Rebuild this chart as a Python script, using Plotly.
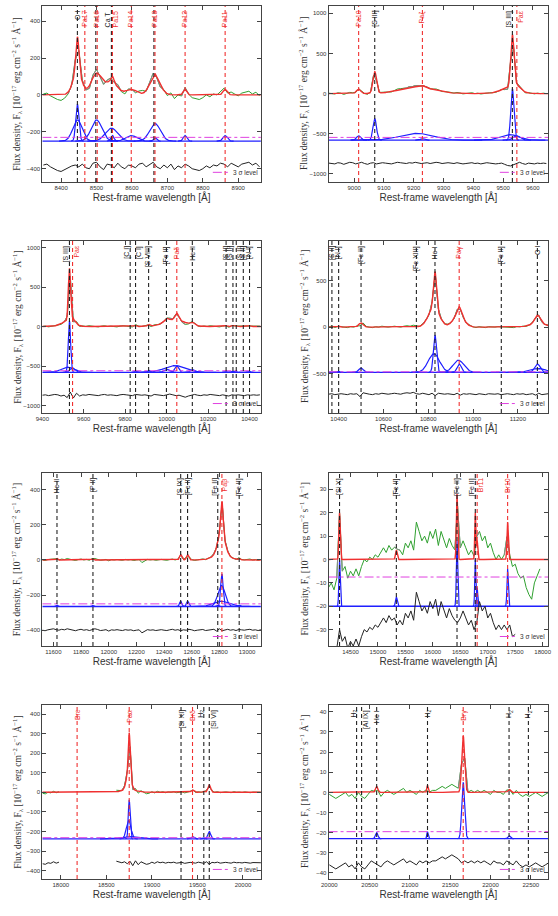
import numpy as np
import plotly.graph_objects as go

# ======================= data =======================
# ---- Panel 1 (8350-8960 A)
p1_xrange = [8347, 8964]
p1_yrange = [-472, 482]
p1_dtick = [100, 200]
p1_line_wl = [8446, 8467, 8498, 8502, 8542, 8545, 8598, 8662, 8665, 8750, 8863]
p1_line_lab = ["O I", "Pa17", "", "Pa16", "Ca T", "Pa15", "Pa14", "", "Pa13", "Pa12", "Pa11"]
p1_line_red = [0, 1, 0, 1, 0, 1, 1, 0, 1, 1, 1]
p1_comp_c = [8446, 8446, 8500, 8542, 8545, 8598, 8665, 8665, 8750, 8863]
p1_comp_a = [200, 115, 115, 70, 30, 30, 95, 18, 30, 30]
p1_comp_s = [4.5, 13, 15, 17, 4, 15, 15, 4, 5, 6]
p1_blue_off, p1_sig3, p1_res_off = -250, -230, -385
p1_res_start, p1_res_step = 8350, 10
p1_res = [5, 10, -5, -15, -25, -30, -20, -10, 0, 5,
          -5, 10, -10, -15, 15, 20, -5, -20, 10, 5,
          -10, 15, -5, -15, 5, 0, -10, 10, 15, -5,
          10, 20, -5, -15, 5, -10, 10, -20, 0, -10,
          10, 0, -15, -20, -25, -15, 0, -10, 5, 0,
          15, 10, -5, 15, 5, -5, 10, 15, 20, 5, 15, -5]

# ---- Panel 2 (8915-9650 A)
p2_xrange = [8914, 9651]
p2_yrange = [-1100, 1090]
p2_dtick = [100, 500]
p2_line_wl = [9015, 9069, 9229, 9531, 9546]
p2_line_lab = ["Pa10", "[S III]", "Paζ", "[S III]", "Paε"]
p2_line_red = [1, 0, 1, 0, 1]
p2_comp_c = [9015, 9069, 9210, 9229, 9531, 9522, 9546]
p2_comp_a = [55, 270, 85, 20, 640, 70, 55]
p2_comp_s = [7, 6, 55, 6, 5.5, 30, 12]
p2_blue_off, p2_sig3, p2_res_off = -580, -545, -870
p2_res_start, p2_res_step = 8915, 10
p2_res = [5, 0, -5, 10, 5, -10, 0, 15, 10, -5,
          5, 15, 0, -10, 5, 10, -5, 0, 10, 5,
          0, -5, 5, 15, 10, 5, 0, 10, 5, 15,
          10, 0, 5, 10, 0, 5, 15, 10, 0, 5,
          10, 5, 0, 10, 5, -5, 0, 5, 10, 0,
          5, -5, 0, 10, 5, 0, -5, 0, 5, -10,
          -25, -30, -15, 5, 15, 0, -10, 5, 0, -5,
          5, 0, 5, 0]

# ---- Panel 3 (9400-10455 A)
p3_xrange = [9400, 10455]
p3_yrange = [-1095, 1083]
p3_dtick = [200, 500]
p3_line_wl = [9531, 9546, 9824, 9850, 9913, 9999, 10049, 10124, 10287, 10320, 10336, 10370, 10400]
p3_line_lab = ["[S III]", "Paε", "[C I]", "[C I]", "[S VIII]", "[Fe II]", "Paδ", "He II",
               "[S II]", "[S II]", "[S II]", "[S II]", "[N I]"]
p3_line_red = [0, 1, 0, 0, 0, 0, 1, 0, 0, 0, 0, 0, 0]
p3_comp_c = [9531, 9522, 9546, 9850, 9913, 9999, 10049, 10040, 10124, 10287, 10320, 10336, 10370, 10400]
p3_comp_a = [650, 65, 55, 15, 25, 40, 85, 85, 35, 12, 15, 10, 8, 12]
p3_comp_s = [5.5, 30, 12, 5, 6, 12, 9, 50, 10, 5, 5, 5, 5, 5]
p3_blue_off, p3_sig3, p3_res_off = -580, -560, -870
p3_res_start, p3_res_step = 9400, 15
p3_res = [0, 5, -5, 0, 10, 5, -10, 0, -30, 40,
          -35, 25, -10, 5, 0, 10, 5, 0, -5, 5,
          10, 0, 5, 0, -5, 5, 10, 5, 0, -5,
          10, 5, 0, 5, -5, -10, 10, 5, 0, -5,
          5, 15, 5, -5, 0, -15, -25, -10, 5, 10,
          0, -5, 5, 0, 10, 5, 0, -5, 5, 0,
          -10, 5, 0, 5, 0, -5, 5, 0, 5, 0, 5]

# ---- Panel 4 (10355-11335 A)
p4_xrange = [10355, 11335]
p4_yrange = [-922, 925]
p4_dtick = [200, 500]
p4_line_wl = [10370, 10400, 10500, 10747, 10830, 10938, 11126, 11287]
p4_line_lab = ["[S II]", "[N I]", "[Fe II]", "[Fe XIII]", "He I", "Paγ", "[Fe II]", "O I"]
p4_line_red = [0, 0, 0, 0, 0, 1, 0, 0]
p4_comp_c = [10370, 10400, 10500, 10747, 10830, 10825, 10938, 10935, 11126, 11287, 11290]
p4_comp_a = [8, 10, 45, 8, 400, 200, 90, 130, 8, 90, 40]
p4_comp_s = [5, 5, 10, 6, 7, 25, 9, 24, 6, 12, 35]
p4_blue_off, p4_sig3, p4_res_off = -485, -480, -720
p4_res_start, p4_res_step = 10355, 14
p4_res = [0, 5, -5, 0, 5, 0, -5, 5, 0, 5,
          -25, 15, 5, 0, -5, 5, 0, 10, 5, 0,
          5, 10, 5, 0, 10, 15, 10, 20, 5, 0,
          10, 5, -5, 10, -15, 10, 5, 0, 5, 0,
          -5, 10, -10, 5, 0, 5, 0, -5, 5, 0,
          -5, 5, 0, 0, 5, -5, 0, 5, 0, -5,
          5, 0, 5, -5, 0, 5, -10, 10, -5, 0, 5]

# ---- Panel 5 (11520-13100 A)
p5_xrange = [11520, 13100]
p5_yrange = [-490, 495]
p5_dtick = [200, 200]
p5_line_wl = [11626, 11886, 12520, 12570, 12788, 12818, 12943]
p5_line_lab = ["He II", "[P II]", "[S IX]", "[Fe II]", "[Fe II]", "Paβ", "[Fe II]"]
p5_line_red = [0, 0, 0, 0, 0, 1, 0]
p5_comp_c = [11626, 11886, 12520, 12570, 12788, 12818, 12815, 12812, 12943]
p5_comp_a = [8, 6, 30, 30, 8, 185, 120, 30, 8]
p5_comp_s = [5, 5, 8, 8, 6, 9, 26, 55, 6]
p5_blue_off, p5_sig3, p5_res_off = -265, -250, -400
p5_res_start, p5_res_step = 11520, 20
p5_res = [0, -3, 2, 5, 8, 3, 0, 5, 2, 8,
          4, 0, -3, 2, 5, 0, 3, -2, 5, 8,
          4, -2, 0, 3, -5, 2, 0, 3, 0, -2,
          3, 0, 2, -3, 0, 2, -15, -5, 3, 0,
          2, -2, 0, 3, 0, -2, 2, 5, 0, 3,
          -3, 2, 0, 5, 2, -3, 0, 2, 4, -2,
          0, 3, 5, -5, 8, -3, 2, 5, 0, 3,
          -2, 4, 2, 0, 3, 5, 0, 2, -2, 3]

# ---- Panel 6 (14100-18100 A)
p6_xrange = [14100, 18100]
p6_yrange = [-37, 37]
p6_dtick = [500, 10]
p6_line_wl = [14300, 15335, 16440, 16773, 16807, 17362]
p6_line_lab = ["[Si X]", "[Fe II]", "[Fe II]", "[Fe II]", "Br11", "Br10"]
p6_line_red = [0, 0, 0, 0, 1, 1]
p6_comp_c = [14300, 15335, 16440, 16773, 16807, 17362]
p6_comp_a = [20, 4, 28, 20, 8, 16]
p6_comp_s = [12, 15, 12, 10, 10, 12]
p6_blue_off, p6_sig3, p6_res_off = -20, -7.5, -30
p6_res_start, p6_res_step, p6_res_end = 14100, 50, 17500
p6_res = [-12, -10, -13, -8, 0, -5, -3, -8, -5, -7,
          -4, -7, -3, 0, -1, 1, 0, 2, 1, 3,
          5, 3, 6, 4, 5, 2, 4, 2, 7, 5,
          8, 4, 16, 12, 8, 10, 7, 12, 9, 13,
          6, 12, 8, 5, 9, 6, 4, 3, 5, 8,
          5, 2, 4, 0, 3, 12, 8, 10, 5, 7,
          3, 0, 2, 0, 2, 0, 2, -3, -2, -6,
          -8, -7, -12, -15, -17, -10, -7, -4]

# ---- Panel 7 (17800-20200 A)
p7_xrange = [17797, 20197]
p7_yrange = [-443, 446]
p7_dtick = [500, 100]
p7_line_wl = [18179, 18751, 19320, 19446, 19570, 19630]
p7_line_lab = ["Brε", "Paα", "[Si XI]", "Brδ", "H<sub>2</sub>", "[Si VI]"]
p7_line_red = [1, 1, 0, 1, 0, 0]
p7_comp_c = [18751, 18745, 18750, 19446, 19570, 19630]
p7_comp_a = [200, 95, 12, 12, 6, 38]
p7_comp_s = [10, 25, 80, 15, 10, 15]
p7_blue_off, p7_sig3, p7_res_off = -238, -232, -360
p7_res_start, p7_res_step = 17800, 30
p7_res = [-5, -8, 0, -3, 5, -2, 3,
          None, None, None, None, None, None, None, None, None, None,
          None, None, None, None, None, None, None, None, None, None,
          8, 5, 0, 5, -5, 8, -15, 10, -10, 5,
          0, -8, -5, 3, -3, 5, 0, 3, -2, 2,
          0, 3, -2, 0, 2, -3, 0, 2, 0, -2,
          3, 0, -3, 5, -8, 2, 0, 3, -2, 0,
          2, 0, -2, 3, 0, 1, -1, 2, 0, -2,
          1, 0, 2, 0]

# ---- Panel 8 (20000-22715 A)
p8_xrange = [19990, 22715]
p8_yrange = [-43, 43.4]
p8_dtick = [500, 10]
p8_line_wl = [20338, 20400, 20587, 21218, 21661, 22230, 22470]
p8_line_lab = ["H<sub>2</sub>", "[Al IX]", "He I", "H<sub>2</sub>", "Brγ", "H<sub>2</sub>", "H<sub>2</sub>"]
p8_line_red = [0, 0, 0, 0, 1, 0, 0]
p8_comp_c = [20587, 21218, 21661, 22230]
p8_comp_a = [3, 3.5, 28, 1.5]
p8_comp_s = [15, 8, 18, 15]
p8_blue_off, p8_sig3, p8_res_off = -23, -19.5, -35
p8_res_start, p8_res_step = 20000, 40
p8_res = [-1, -2, -3, -2, -1, 0, -2, -1, -3, 0,
          -2, -3, -1, 1, 0, -1, -2, 0, 1, 0,
          -1, 0, 1, 2, 0, 1, 0, -1, 1, 0,
          1, 0, 1, 1, 2, 3, 2, 3, 4, 3,
          2, 0, 1, 0, 1, 0, 1, 0, 1, 0,
          -1, 1, 0, 0, -1, 1, 0, -1, 1, -1,
          -2, -1, -2, -1, 0, -1, -2, -1, 0]

# ======================= assembly =======================
def P(k, res_end=None):
    g = globals()
    d = {n: g[f"p{k}_{n}"] for n in ["xrange", "yrange", "dtick", "line_wl", "line_lab", "line_red",
                                     "comp_c", "comp_a", "comp_s", "blue_off", "sig3", "res_off",
                                     "res_start", "res_step", "res"]}
    d["res_end"] = res_end
    return d

panels = [P(1), P(2), P(3), P(4), P(5), P(6, p6_res_end), P(7), P(8)]

W, H = 558, 916
col_px = [(35, 258), (327, 551)]
row_px = [(6, 182), (241, 413), (473, 646), (705, 879)]

RED = "#f03030"
BLUE = "#1f1fff"
GREEN = "#2fa02f"
GRAY = "#8a8a8a"
BLACK = "#222222"
MAG = "#e040e0"
AXC = "#444444"
SANS = "Liberation Sans"
TICKF = dict(family=SANS, size=6, color="#333333")


def model(x, p):
    y = np.zeros_like(x, dtype=float)
    for c, a, s in zip(p["comp_c"], p["comp_a"], p["comp_s"]):
        y += a * np.exp(-0.5 * ((x - c) / s) ** 2)
    return y


fig = go.Figure()
shapes, annots = [], []
layout = dict(width=W, height=H, margin=dict(l=0, r=0, t=0, b=0),
              paper_bgcolor="white", plot_bgcolor="white", showlegend=False)

for i, p in enumerate(panels):
    k = i + 1
    ax = "" if k == 1 else str(k)
    xa, ya = "x" + ax, "y" + ax
    col, row = i % 2, i // 2
    x0p, x1p = col_px[col]
    t, b = row_px[row]
    xdom = [x0p / W, x1p / W]
    ydom = [1 - b / H, 1 - t / H]
    xr, yr = p["xrange"], p["yrange"]

    common = dict(ticks="inside", ticklen=4, tickwidth=1, tickcolor=AXC, mirror="allticks",
                  showline=True, linecolor=AXC, linewidth=1, showgrid=False, zeroline=False,
                  tickfont=TICKF)
    layout["xaxis" + ax] = dict(domain=xdom, range=xr, anchor=ya, dtick=p["dtick"][0],
                                tickformat="d",
                                title=dict(text="Rest-frame wavelength [Å]",
                                           font=dict(family=SANS, size=10, color="#333333"),
                                           standoff=2), **common)
    layout["yaxis" + ax] = dict(domain=ydom, range=yr, anchor=xa, dtick=p["dtick"][1], **common)

    # fine grid for model curves
    xf = np.linspace(xr[0], xr[1], 2500)
    mf = model(xf, p)

    res = np.array([np.nan if v is None else v for v in p["res"]], dtype=float)
    wl = p["res_start"] + p["res_step"] * np.arange(len(res))
    mw = model(wl, p)
    data = mw + res
    fig.add_trace(go.Scatter(x=wl, y=data, mode="lines", line=dict(color=GREEN, width=1),
                             xaxis=xa, yaxis=ya, hoverinfo="skip"))
    thr = 0.03 * (yr[1] - yr[0])
    inl = mw > thr
    near = inl.copy()
    near[1:] |= inl[:-1]
    near[:-1] |= inl[1:]
    gdata = np.where(near, data, np.nan)
    fig.add_trace(go.Scatter(x=wl, y=gdata, mode="lines", line=dict(color=GRAY, width=1),
                             xaxis=xa, yaxis=ya, hoverinfo="skip"))

    # blue components
    fig.add_trace(go.Scatter(x=[xr[0], xr[1]], y=[p["blue_off"], p["blue_off"]], mode="lines",
                             line=dict(color=BLUE, width=1.3), xaxis=xa, yaxis=ya, hoverinfo="skip"))
    for c, a, s in zip(p["comp_c"], p["comp_a"], p["comp_s"]):
        m = np.abs(xf - c) < 4 * s
        xc = xf[m]
        fig.add_trace(go.Scatter(x=xc, y=p["blue_off"] + a * np.exp(-0.5 * ((xc - c) / s) ** 2),
                                 mode="lines", line=dict(color=BLUE, width=1.2),
                                 xaxis=xa, yaxis=ya, hoverinfo="skip"))
    # 3 sigma level
    fig.add_trace(go.Scatter(x=[xr[0], xr[1]], y=[p["sig3"], p["sig3"]], mode="lines",
                             line=dict(color=MAG, width=1, dash="dashdot"),
                             xaxis=xa, yaxis=ya, hoverinfo="skip"))
    # residuals
    rr = res + p["res_off"]
    if p["res_end"] is not None:
        rr = np.where(wl <= p["res_end"], rr, np.nan)
    fig.add_trace(go.Scatter(x=wl, y=rr, mode="lines", line=dict(color=BLACK, width=1),
                             xaxis=xa, yaxis=ya, hoverinfo="skip"))
    # total model
    fig.add_trace(go.Scatter(x=xf, y=mf, mode="lines", line=dict(color=RED, width=1.4),
                             xaxis=xa, yaxis=ya, hoverinfo="skip"))

    # vertical line markers and labels
    pxA = (x1p - x0p) / (xr[1] - xr[0])
    labelled = [(w, l, r) for w, l, r in zip(p["line_wl"], p["line_lab"], p["line_red"])]
    for w, l, r in labelled:
        shapes.append(dict(type="line", xref=xa, yref=ya + " domain", x0=w, x1=w, y0=0, y1=1,
                           line=dict(color=RED if r else BLACK, width=1.1, dash="4px,3px"),
                           layer="above"))
    labs = [(w, l, r) for w, l, r in labelled if l]
    for j, (w, l, r) in enumerate(labs):
        shift = 0
        if j + 1 < len(labs) and (labs[j + 1][0] - w) * pxA < 6:
            shift = -3
        if j > 0 and (w - labs[j - 1][0]) * pxA < 6:
            shift = 4
        annots.append(dict(x=w, y=1, xref=xa, yref=ya + " domain", text=l, showarrow=False,
                           textangle=-90, xanchor="center", yanchor="top", yshift=-3, xshift=shift,
                           font=dict(family=SANS, size=7, color=RED if r else BLACK)))

    # legend: 3 sigma level
    shapes.append(dict(type="line", xref=xa + " domain", yref=ya + " domain",
                       x0=0.78, x1=0.85, y0=0.055, y1=0.055,
                       line=dict(color=MAG, width=1, dash="dashdot")))
    annots.append(dict(x=0.865, y=0.055, xref=xa + " domain", yref=ya + " domain",
                       text="3 σ level", showarrow=False, xanchor="left", yanchor="middle",
                       font=dict(family=SANS, size=6.5, color="#333333")))

    # y-axis title
    annots.append(dict(x=(9 if col == 0 else 302) / W, y=(ydom[0] + ydom[1]) / 2,
                       xref="paper", yref="paper", showarrow=False, textangle=-90,
                       xanchor="center", yanchor="middle",
                       text="Flux density, F<sub>λ</sub> [10<sup>−17</sup> erg cm<sup>−2</sup> "
                            "s<sup>−1</sup> Å<sup>−1</sup>]",
                       font=dict(family="Liberation Serif", size=9.5, color="#333333")))

layout["shapes"] = shapes
layout["annotations"] = annots
fig.update_layout(**layout)
fig.write_html("out.html")
